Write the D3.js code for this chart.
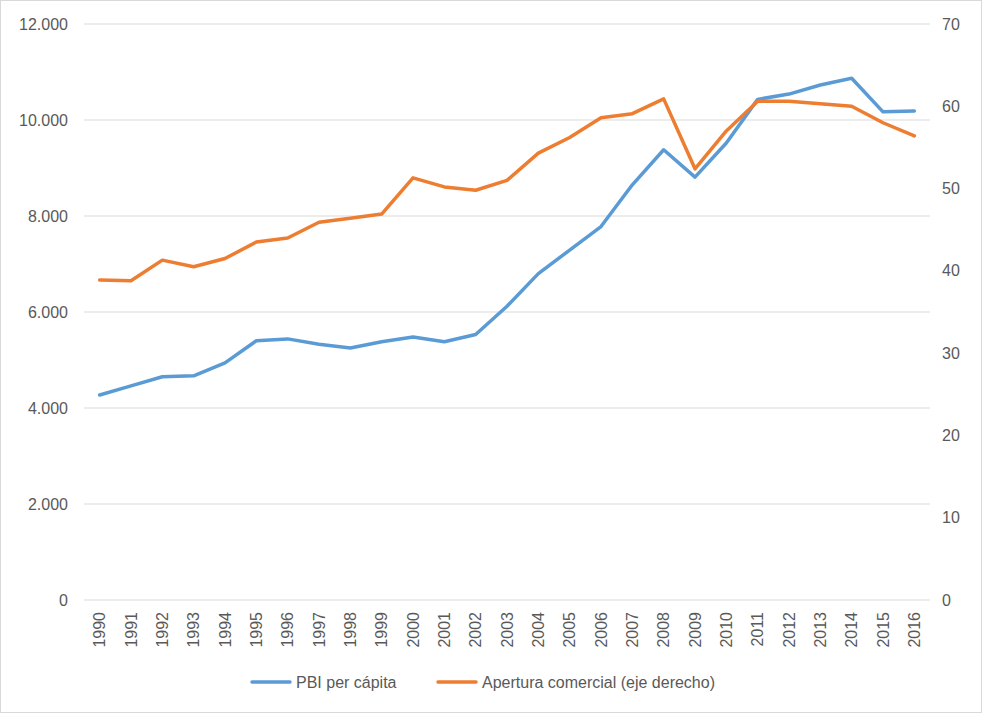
<!DOCTYPE html>
<html>
<head>
<meta charset="utf-8">
<script src="https://cdn.jsdelivr.net/npm/d3@7"></script>
<style>
  body { margin: 0; background: #fff; }
  svg { font-family: "Liberation Sans", Arial, sans-serif; }
</style>
</head>
<body>
<svg id="chart"></svg>
<script>
const years = d3.range(1990, 2017).map(String);
const pbi = [4270, 4460, 4650, 4670, 4940, 5400, 5440, 5330, 5250, 5380,
  5480, 5380, 5530, 6120, 6800, 7290, 7780, 8650, 9380, 8810,
  9520, 10430, 10540, 10730, 10870, 10170, 10190];
const apertura = [38.9, 38.8, 41.3, 40.5, 41.5, 43.5, 44.0, 45.9, 46.4, 46.9,
  51.3, 50.2, 49.8, 51.0, 54.3, 56.2, 58.6, 59.1, 60.9, 52.4,
  57.0, 60.6, 60.6, 60.3, 60.0, 58.0, 56.4];
const leftTicks = [0, 2000, 4000, 6000, 8000, 10000, 12000];
const rightTicks = [0, 10, 20, 30, 40, 50, 60, 70];
const seriesNames = ["PBI per cápita", "Apertura comercial (eje derecho)"];
const colors = ["#5B9BD5", "#ED7D31"];

const W = 982, H = 713;
const margin = { top: 24, right: 52, bottom: 113, left: 84 };
const width = W - margin.left - margin.right,
  height = H - margin.top - margin.bottom;

const svg = d3.select("#chart").attr("width", W).attr("height", H);

svg.append("rect")
  .attr("x", 0.5).attr("y", 0.5)
  .attr("width", W - 1).attr("height", H - 1)
  .attr("fill", "#fff").attr("stroke", "#d9d9d9");

const g = svg.append("g").attr("transform", `translate(${margin.left},${margin.top})`);

const x = d3.scaleBand().domain(years).range([0, width]);
const yL = d3.scaleLinear().domain([0, 12000]).range([height, 0]);
const yR = d3.scaleLinear().domain([0, 70]).range([height, 0]);

const fmt = d3.formatLocale({ decimal: ",", thousands: ".", grouping: [3], currency: ["$", ""] }).format(",d");

// gridlines
g.selectAll(".grid")
  .data(leftTicks)
  .join("line")
  .attr("class", "grid")
  .attr("x1", 0).attr("x2", width)
  .attr("y1", d => yL(d)).attr("y2", d => yL(d))
  .attr("stroke", "#d9d9d9").attr("stroke-width", 1);

// left axis
const axL = g.append("g")
  .call(d3.axisLeft(yL).tickValues(leftTicks).tickFormat(fmt).tickSize(0).tickPadding(16));
axL.select(".domain").remove();
axL.selectAll("text").attr("fill", "#595959").style("font-size", "16px");

// right axis
const axR = g.append("g")
  .attr("transform", `translate(${width},0)`)
  .call(d3.axisRight(yR).tickValues(rightTicks).tickSize(0).tickPadding(12));
axR.select(".domain").remove();
axR.selectAll("text").attr("fill", "#595959").style("font-size", "16px");

// bottom axis
const axB = g.append("g")
  .attr("transform", `translate(0,${height})`)
  .call(d3.axisBottom(x).tickSize(0).tickPadding(0));
axB.select(".domain").remove();
axB.selectAll("text")
  .attr("fill", "#595959").style("font-size", "16px")
  .attr("transform", "rotate(-90)")
  .attr("x", -12).attr("y", 0).attr("dy", "0.35em")
  .attr("text-anchor", "end");

// lines
const cx = d => x(d) + x.bandwidth() / 2;
const lineL = d3.line().x((d, i) => cx(years[i])).y(d => yL(d));
const lineR = d3.line().x((d, i) => cx(years[i])).y(d => yR(d));

g.append("path").datum(pbi)
  .attr("d", lineL)
  .attr("fill", "none").attr("stroke", colors[0])
  .attr("stroke-width", 3.5).attr("stroke-linejoin", "round").attr("stroke-linecap", "round");

g.append("path").datum(apertura)
  .attr("d", lineR)
  .attr("fill", "none").attr("stroke", colors[1])
  .attr("stroke-width", 3.5).attr("stroke-linejoin", "round").attr("stroke-linecap", "round");

// legend
const legendX = [252, 438];
const legend = svg.append("g").attr("transform", "translate(0,682)");
const items = legend.selectAll("g")
  .data(seriesNames)
  .join("g")
  .attr("transform", (d, i) => `translate(${legendX[i]},0)`);
items.append("line")
  .attr("x1", 0).attr("x2", 38)
  .attr("stroke", (d, i) => colors[i]).attr("stroke-width", 3.5).attr("stroke-linecap", "round");
items.append("text")
  .attr("x", 44).attr("dy", "0.35em")
  .attr("fill", "#595959").style("font-size", "16px")
  .text(d => d);
</script>
</body>
</html>
